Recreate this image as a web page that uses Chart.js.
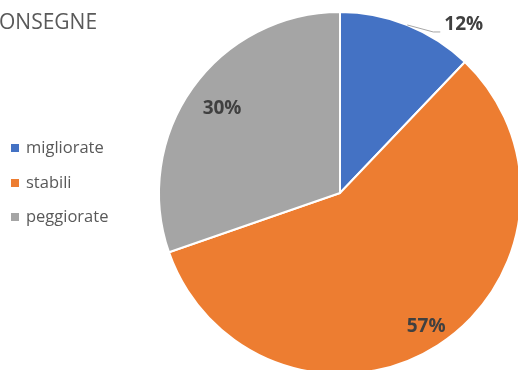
<!DOCTYPE html>
<html>
<head>
<meta charset="utf-8">
<script src="https://cdn.jsdelivr.net/npm/chart.js@4/dist/chart.umd.min.js"></script>
<style>
  html, body { margin: 0; padding: 0; background: #fff; overflow: hidden; }
  #clip { width: 518px; height: 370px; overflow: hidden; position: relative; }
  #wrap { width: 530px; height: 384px; position: absolute; left: 0; top: 0; }
</style>
</head>
<body>
<div id="clip"><div id="wrap"><canvas id="pie-chart"></canvas></div></div>
<script>
var titleText = 'ONSEGNE';
var labels = ['migliorate', 'stabili', 'peggiorate'];
var values = [12, 57, 30];
var colors = ['#4472C4', '#ED7D31', '#A5A5A5'];

// title, legend and percent labels drawn on the canvas
var extras = {
    id: 'extras',
    afterDraw: function (chart) {
        var ctx = chart.ctx;
        ctx.save();

        ctx.fillStyle = '#595959';
        ctx.font = '21px "Open Sans"';
        ctx.textAlign = 'left';
        ctx.textBaseline = 'alphabetic';
        ctx.fillText(titleText, -1, 29);

        // legend
        ctx.font = '16.5px "Open Sans"';
        ctx.textBaseline = 'middle';
        var ys = [148, 183, 217];
        chart.data.labels.forEach(function (lab, i) {
            ctx.fillStyle = colors[i];
            ctx.fillRect(11, ys[i] - 4, 8, 8);
            ctx.fillStyle = '#595959';
            ctx.fillText(lab, 26, ys[i]);
        });

        // percent labels
        var arcs = chart.getDatasetMeta(0).data;
        ctx.font = 'bold 19px "Open Sans"';
        ctx.fillStyle = '#404040';
        ctx.textAlign = 'center';
        arcs.forEach(function (arc, i) {
            var mid = (arc.startAngle + arc.endAngle) / 2;
            var r = arc.outerRadius;
            var txt = values[i] + '%';
            if (i === 0) {
                var ex = arc.x + Math.cos(mid) * r;
                var ey = arc.y + Math.sin(mid) * r;
                ctx.strokeStyle = '#A6A6A6';
                ctx.lineWidth = 1;
                ctx.beginPath();
                ctx.moveTo(ex, ey);
                ctx.lineTo(ex + 26, ey + 7);
                ctx.lineTo(ex + 33, ey + 7);
                ctx.stroke();
                ctx.textAlign = 'left';
                ctx.fillText(txt, ex + 37, ey);
                ctx.textAlign = 'center';
            } else {
                var k = i === 1 ? 0.88 : 0.80;
                ctx.fillText(txt, arc.x + Math.cos(mid) * r * k, arc.y + Math.sin(mid) * r * k);
            }
        });
        ctx.restore();
    }
};

new Chart(document.getElementById('pie-chart'), {
    type: 'pie',
    data: {
        labels: labels,
        datasets: [{
            data: values,
            backgroundColor: colors,
            borderColor: '#ffffff',
            borderWidth: 2
        }]
    },
    options: {
        responsive: true,
        maintainAspectRatio: false,
        animation: false,
        layout: {
            padding: { left: 158, right: 8, top: 11, bottom: 9 }
        },
        plugins: {
            legend: { display: false },
            tooltip: { enabled: false },
            title: { display: false }
        }
    },
    plugins: [extras]
});
</script>
</body>
</html>
